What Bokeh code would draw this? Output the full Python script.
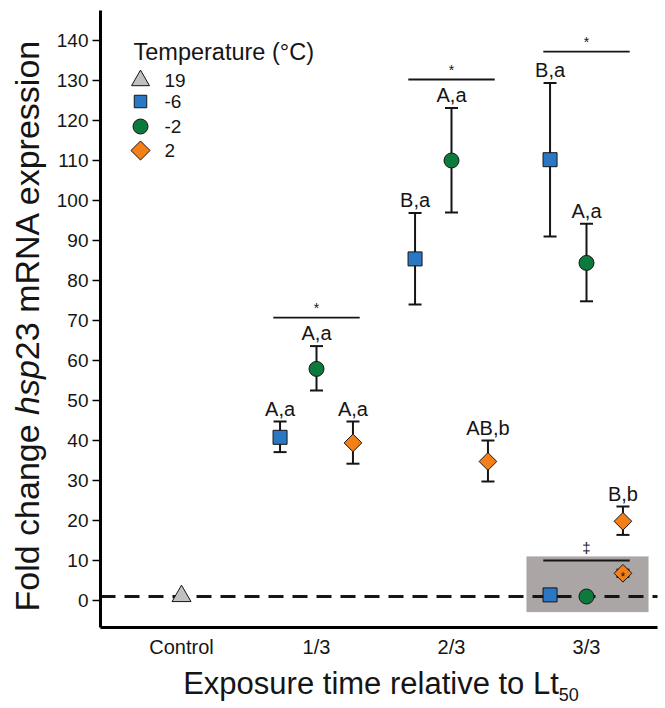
import numpy as np
from bokeh.plotting import figure
from bokeh.models import (ColumnDataSource, Whisker, TeeHead, Label,
                          FixedTicker, Range1d, BoxAnnotation)
from bokeh.core.properties import value
from bokeh.embed import file_html
from bokeh.resources import INLINE

# ---------------- data ----------------
categories = ["Control", "1/3", "2/3", "3/3"]
cat_pos = [1, 2, 3, 4]
exposure_pos = [2, 3, 4]

control_mean = [1.1]

sq_mean = [40.8, 85.4, 110.2]      # -6 °C
sq_lo = [37.1, 74.0, 91.0]
sq_hi = [44.75, 96.9, 129.4]
sq_lab = ["A,a", "B,a", "B,a"]

ci_mean = [57.9, 110.0, 84.4]      # -2 °C
ci_lo = [52.5, 97.0, 74.8]
ci_hi = [63.6, 123.1, 94.2]
ci_lab = ["A,a", "A,a", "A,a"]

di_mean = [39.4, 34.75, 19.8]      # 2 °C
di_lo = [34.2, 29.75, 16.4]
di_hi = [44.75, 40.0, 23.5]
di_lab = ["A,a", "AB,b", "B,b"]

sig_y = [70.7, 130.25, 137.2]
sig_mark = ["*", "*", "*"]

inset_pos = [4]
inset_sq = [1.4]
inset_ci = [1.0]
inset_di = [6.8]
inset_di_lo = [5.9]
inset_di_hi = [7.7]
inset_sig_y = [10.0]
inset_sig_mark = ["\u2021"]
inset_box = [-2.9, 11.0]

ref_level = 1.0
legend_title = "Temperature (\u00b0C)"
legend_labels = ["19", "-6", "-2", "2"]
y_ticks = list(range(0, 141, 10))
x_axis_span = [0.4, 4.526]
y_axis_span = [-6.75, 147.5]

# ---------------- style / geometry ----------------
FONT = "Liberation Sans"
INK = "#151515"
C_GRAY = "#c0c0c0"
C_BLUE = "#2a78c4"
C_GREEN = "#0c7a3c"
C_ORANGE = "#f27f17"
OFF = 0.27
HALF = 0.32

W, H = 662, 708
PX_X, PX_Y = 135.0, 4.0          # pixels per data unit
AX_LEFT_PX, ZERO_PX = 100, 600   # canvas px of x=0.4 and y=0

def dx(px):  # canvas px (from left) -> data x
    return x_axis_span[0] + (px - AX_LEFT_PX) / PX_X

def dy(py):  # canvas px (from top) -> data y
    return (ZERO_PX - py) / PX_Y

p = figure(width=W, height=H, output_backend="svg", toolbar_location=None,
           x_range=Range1d(dx(0), dx(W)), y_range=Range1d(dy(H), dy(0)),
           min_border_left=0, min_border_right=0, min_border_top=0,
           min_border_bottom=0)
p.outline_line_color = None
p.grid.visible = False
p.background_fill_color = "white"
p.border_fill_color = "white"

# axes (drawn inside the full-canvas frame at fixed locations)
xa, ya = p.xaxis[0], p.yaxis[0]
xa.fixed_location = y_axis_span[0]
ya.fixed_location = x_axis_span[0]
xa.bounds = tuple(x_axis_span)
ya.bounds = tuple(y_axis_span)
for ax in (xa, ya):
    ax.axis_line_width = 3
    ax.axis_line_color = "black"
    ax.major_label_text_font = FONT
    ax.major_label_text_color = INK
    ax.minor_tick_line_color = None
xa.ticker = FixedTicker(ticks=cat_pos)
xa.major_label_overrides = {c: t for c, t in zip(cat_pos, categories)}
xa.major_tick_line_color = None
xa.major_label_text_font_size = "20px"
xa.major_label_standoff = 2
ya.ticker = FixedTicker(ticks=y_ticks)
ya.major_label_text_font_size = "19px"
ya.major_tick_out = 8
ya.major_tick_in = 0
ya.major_tick_line_width = 1.5
ya.major_tick_line_color = "black"
ya.major_label_standoff = 4

# inset shaded box
p.add_layout(BoxAnnotation(left=inset_pos[0] - 0.444, right=inset_pos[0] + 0.459,
                           bottom=inset_box[0], top=inset_box[1],
                           fill_color="#aba5a5", fill_alpha=1.0,
                           line_color="#c4c0c0", line_width=1, level="image"))

# reference dashed line (across the plotting area)
p.segment([x_axis_span[0]], [ref_level], [x_axis_span[1]], [ref_level],
          line_color=INK, line_width=3, line_dash="15 9", level="underlay")

gx = np.array(exposure_pos, dtype=float)

def whisk(x, lo, hi):
    src = ColumnDataSource(dict(x=list(x), lo=lo, hi=hi))
    w = Whisker(source=src, base="x", lower="lo", upper="hi", dimension="height",
                line_color=INK, line_width=2, level="underlay",
                upper_head=TeeHead(size=13, line_width=2, line_color=INK),
                lower_head=TeeHead(size=13, line_width=2, line_color=INK))
    p.add_layout(w)

whisk(gx - OFF, sq_lo, sq_hi)
whisk(gx, ci_lo, ci_hi)
whisk(gx + OFF, di_lo, di_hi)
whisk(np.array(inset_pos) + OFF, inset_di_lo, inset_di_hi)

# markers
p.scatter(cat_pos[:1], control_mean, marker="triangle", size=19,
          fill_color=C_GRAY, line_color=INK, line_width=1)
p.scatter(gx - OFF, sq_mean, marker="square", size=14,
          fill_color=C_BLUE, line_color=INK, line_width=1)
p.scatter(gx, ci_mean, marker="circle", size=15,
          fill_color=C_GREEN, line_color=INK, line_width=1)
p.scatter(gx + OFF, di_mean, marker="square", angle=np.pi / 4, size=12.5,
          fill_color=C_ORANGE, line_color=INK, line_width=1)

ix = np.array(inset_pos, dtype=float)
p.scatter(ix - OFF, inset_sq, marker="square", size=14,
          fill_color=C_BLUE, line_color=INK, line_width=1)
p.scatter(ix, inset_ci, marker="circle", size=15,
          fill_color=C_GREEN, line_color=INK, line_width=1)
p.scatter(ix + OFF, inset_di, marker="square", angle=np.pi / 4, size=12.5,
          fill_color=C_ORANGE, line_color=INK, line_width=1)
p.text(ix + OFF, np.array(inset_di) - 0.9, text=["*"], text_font=value(FONT),
       text_font_size="12px", text_align="center", text_baseline="alphabetic",
       text_color=INK)

# letter labels
lab_x = list(gx - OFF) + list(gx) + list(gx + OFF)
lab_y = list(np.array(sq_hi) + 3.2) + list(np.array(ci_hi) + 3.2) + list(np.array(di_hi) + 3.2)
p.text(lab_x, lab_y, text=sq_lab + ci_lab + di_lab, text_font=value(FONT),
       text_font_size="20px", text_align="center", text_baseline="middle",
       text_color=INK)

# significance bars
p.segment(gx - HALF, sig_y, gx + HALF, sig_y, line_color=INK, line_width=1.8)
p.text(gx, np.array(sig_y) + 2.4, text=sig_mark, text_font=value(FONT),
       text_font_size="14px", text_align="center", text_baseline="alphabetic",
       text_color=INK)
p.segment(ix - HALF, inset_sig_y, ix + HALF, inset_sig_y, line_color=INK, line_width=1.8)
p.text(ix, np.array(inset_sig_y) + 3.2, text=inset_sig_mark, text_font=value(FONT),
       text_font_size="15px", text_align="center", text_baseline="middle",
       text_color=INK)

# legend (manual)
leg_rows = [80, 101, 126, 150]
p.text([dx(133)], [dy(51.7)], text=[legend_title], text_font=value(FONT),
       text_font_size="23.5px", text_align="left", text_baseline="middle", text_color=INK)
leg_mx = dx(140)
p.scatter([leg_mx], [dy(leg_rows[0])], marker="triangle", size=18,
          fill_color=C_GRAY, line_color=INK, line_width=1)
p.scatter([leg_mx], [dy(leg_rows[1])], marker="square", size=12.5,
          fill_color=C_BLUE, line_color=INK, line_width=1)
p.scatter([leg_mx], [dy(leg_rows[2])], marker="circle", size=15,
          fill_color=C_GREEN, line_color=INK, line_width=1)
p.scatter([leg_mx], [dy(leg_rows[3])], marker="square", angle=np.pi / 4, size=13.5,
          fill_color=C_ORANGE, line_color=INK, line_width=1)
p.text([dx(164)] * 4, [dy(r) for r in leg_rows], text=legend_labels, text_font=value(FONT),
       text_font_size="19px", text_align="left", text_baseline="middle", text_color=INK)

# axis titles (manual, to allow italic and subscript)
AW = {' ': 278, 'F': 611, 'o': 556, 'l': 222, 'd': 556, 'c': 500, 'h': 556, 'a': 556,
      'n': 556, 'g': 556, 'e': 556, 's': 500, 'p': 556, '2': 556, '3': 556, 'm': 833,
      'R': 722, 'N': 722, 'A': 667, 'x': 500, 'r': 333, 'i': 222, 'E': 667, 'u': 556,
      't': 278, 'v': 500, 'L': 556, '5': 556, '0': 556}

def tw(s, size):
    return sum(AW[c] for c in s) * size / 1000.0

SHIFT = 0.35  # empirical baseline correction (fraction of font size)

# x title
xt_main, xt_sub = "Exposure time relative to Lt", "50"
XS, XSS = 31, 18
tot = tw(xt_main, XS) + tw(xt_sub, XSS)
x_start = 380.5 - tot / 2
p.add_layout(Label(x=dx(x_start), y=dy(694 - SHIFT * XS), text=xt_main,
                   text_font=FONT, text_font_size=f"{XS}px", text_color=INK,
                   text_align="left", text_baseline="alphabetic"))
p.add_layout(Label(x=dx(x_start + tw(xt_main, XS)), y=dy(700 - SHIFT * XSS),
                   text=xt_sub, text_font=FONT, text_font_size=f"{XSS}px", text_color=INK,
                   text_align="left", text_baseline="alphabetic"))

# y title
YS = 34
parts = [("Fold change ", "normal"), ("hsp", "italic"), ("23 mRNA expression", "normal")]
yy = 611
for txt, style in parts:
    p.add_layout(Label(x=dx(38 - SHIFT * YS), y=dy(yy), text=txt,
                       angle=np.pi / 2, text_font=FONT, text_font_size=f"{YS}px",
                       text_font_style=style, text_color=INK,
                       text_align="left", text_baseline="alphabetic"))
    yy -= tw(txt, YS)

open("out.html", "w").write(file_html(p, INLINE))
